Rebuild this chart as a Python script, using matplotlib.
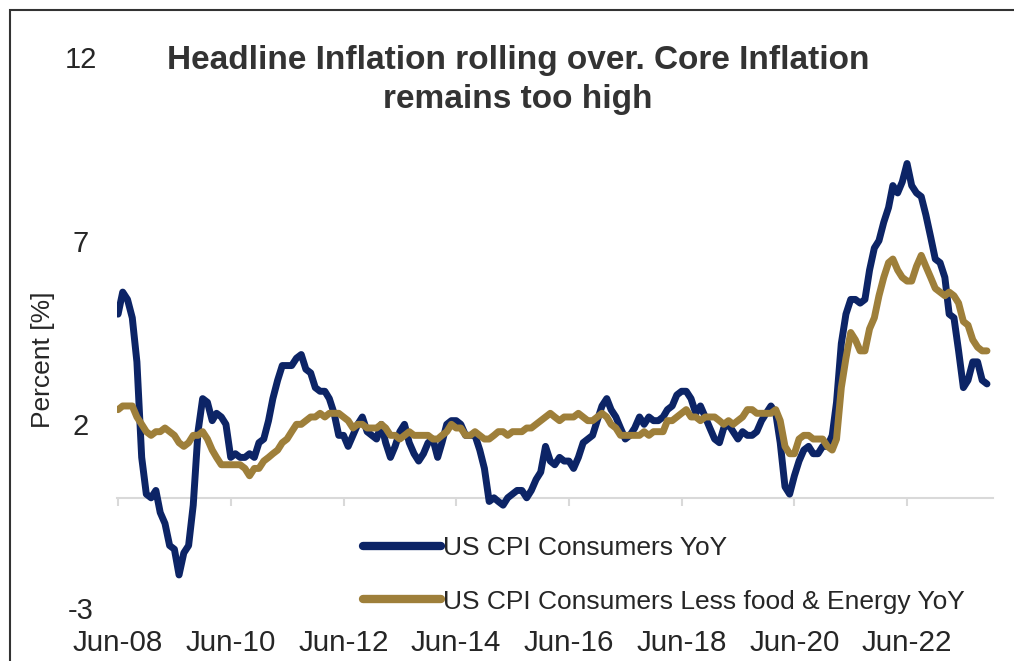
import matplotlib
matplotlib.use("Agg")
import matplotlib.pyplot as plt
from matplotlib.patches import Rectangle
import pandas as pd

plt.rcParams['font.family'] = ['Liberation Sans', 'DejaVu Sans']
plt.rcParams['axes.unicode_minus'] = False

start_month = "2008-06-01"

headline = [
    5.0, 5.6, 5.4, 4.9, 3.7, 1.1, 0.1,
    0.0, 0.2, -0.4, -0.7, -1.3, -1.4, -2.1, -1.5, -1.3, -0.2, 1.8, 2.7,
    2.6, 2.1, 2.3, 2.2, 2.0, 1.1, 1.2, 1.1, 1.1, 1.2, 1.1, 1.5,
    1.6, 2.1, 2.7, 3.2, 3.6, 3.6, 3.6, 3.8, 3.9, 3.5, 3.4, 3.0,
    2.9, 2.9, 2.7, 2.3, 1.7, 1.7, 1.4, 1.7, 2.0, 2.2, 1.8, 1.7,
    1.6, 2.0, 1.5, 1.1, 1.4, 1.8, 2.0, 1.5, 1.2, 1.0, 1.2, 1.5,
    1.6, 1.1, 1.5, 2.0, 2.1, 2.1, 2.0, 1.7, 1.7, 1.7, 1.3, 0.8,
    -0.1, 0.0, -0.1, -0.2, 0.0, 0.1, 0.2, 0.2, 0.0, 0.2, 0.5, 0.7,
    1.4, 1.0, 0.9, 1.1, 1.0, 1.0, 0.8, 1.1, 1.5, 1.6, 1.7, 2.1,
    2.5, 2.7, 2.4, 2.2, 1.9, 1.6, 1.7, 1.9, 2.2, 2.0, 2.2, 2.1,
    2.1, 2.2, 2.4, 2.5, 2.8, 2.9, 2.9, 2.7, 2.3, 2.5, 2.2, 1.9,
    1.6, 1.5, 1.9, 2.0, 1.8, 1.6, 1.8, 1.7, 1.7, 1.8, 2.1, 2.3,
    2.5, 2.3, 1.5, 0.3, 0.1, 0.6, 1.0, 1.3, 1.4, 1.2, 1.2, 1.4,
    1.4, 1.7, 2.6, 4.2, 5.0, 5.4, 5.4, 5.3, 5.4, 6.2, 6.8, 7.0,
    7.5, 7.9, 8.5, 8.3, 8.6, 9.1, 8.5, 8.3, 8.2, 7.7, 7.1, 6.5,
    6.4, 6.0, 5.0, 4.9, 4.0, 3.0, 3.2, 3.7, 3.7, 3.2, 3.1,
]

core = [
    2.4, 2.5, 2.5, 2.5, 2.2, 2.0, 1.8,
    1.7, 1.8, 1.8, 1.9, 1.8, 1.7, 1.5, 1.4, 1.5, 1.7, 1.7, 1.8,
    1.6, 1.3, 1.1, 0.9, 0.9, 0.9, 0.9, 0.9, 0.8, 0.6, 0.8, 0.8,
    1.0, 1.1, 1.2, 1.3, 1.5, 1.6, 1.8, 2.0, 2.0, 2.1, 2.2, 2.2,
    2.3, 2.2, 2.3, 2.3, 2.3, 2.2, 2.1, 1.9, 2.0, 2.0, 1.9, 1.9,
    1.9, 2.0, 1.9, 1.7, 1.7, 1.6, 1.7, 1.8, 1.7, 1.7, 1.7, 1.7,
    1.6, 1.6, 1.7, 1.8, 2.0, 1.9, 1.9, 1.7, 1.7, 1.8, 1.7, 1.6,
    1.6, 1.7, 1.8, 1.8, 1.7, 1.8, 1.8, 1.8, 1.9, 1.9, 2.0, 2.1,
    2.2, 2.3, 2.2, 2.1, 2.2, 2.2, 2.2, 2.3, 2.2, 2.1, 2.1, 2.2,
    2.3, 2.2, 2.0, 1.9, 1.7, 1.7, 1.7, 1.7, 1.7, 1.8, 1.7, 1.8,
    1.8, 1.8, 2.1, 2.1, 2.2, 2.3, 2.4, 2.2, 2.2, 2.1, 2.2, 2.2,
    2.2, 2.1, 2.0, 2.1, 2.0, 2.1, 2.2, 2.4, 2.4, 2.3, 2.3, 2.3,
    2.3, 2.4, 2.1, 1.4, 1.2, 1.2, 1.6, 1.7, 1.7, 1.6, 1.6, 1.6,
    1.4, 1.3, 1.6, 3.0, 3.8, 4.5, 4.3, 4.0, 4.0, 4.6, 4.9, 5.5,
    6.0, 6.4, 6.5, 6.2, 6.0, 5.9, 5.9, 6.3, 6.6, 6.3, 6.0, 5.7,
    5.6, 5.5, 5.6, 5.5, 5.3, 4.8, 4.7, 4.3, 4.1, 4.0, 4.0,
]

series_names = ["US CPI Consumers YoY", "US CPI Consumers Less food & Energy YoY"]
tick_years = [2008, 2010, 2012, 2014, 2016, 2018, 2020, 2022]
tick_labels = ["Jun-08", "Jun-10", "Jun-12", "Jun-14", "Jun-16", "Jun-18", "Jun-20", "Jun-22"]
y_ticks = [-3, 2, 7, 12]
title = "Headline Inflation rolling over. Core Inflation\nremains too high"

dates = pd.date_range(start_month, periods=len(headline), freq="MS")

W, H = 1014, 661
fig = plt.figure(figsize=(W / 100, H / 100), dpi=100)
ax = fig.add_axes([117 / W, 53 / H, (993 - 117) / W, (608 - 57) / H])

blue = "#0c2466"
gold = "#9e7f3a"
ax.plot(dates, headline, color=blue, lw=5.0, solid_capstyle="round", solid_joinstyle="round", label=series_names[0], zorder=3)
ax.plot(dates, core, color=gold, lw=5.0, solid_capstyle="round", solid_joinstyle="round", label=series_names[1], zorder=4)

ax.set_ylim(-3, 12)
ax.set_yticks(y_ticks)
ax.tick_params(axis="y", length=0, pad=26, labelsize=21, labelcolor="#262626")
for lab in ax.get_yticklabels():
    lab.set_horizontalalignment("center")
ax.set_xlim(pd.Timestamp("2008-05-25"), pd.Timestamp("2023-12-10"))

tick_dates = [pd.Timestamp(f"{y}-06-01") for y in tick_years]
ax.set_xticks(tick_dates)
ax.set_xticklabels([])
ax.tick_params(axis="x", direction="out", length=6, width=1.5, color="#d9d9d9")

for s in ["top", "right", "left"]:
    ax.spines[s].set_visible(False)
ax.spines["bottom"].set_position(("data", 0))
ax.spines["bottom"].set_color("#d9d9d9")
ax.spines["bottom"].set_linewidth(1.5)

sec = ax.secondary_xaxis(0)
sec.set_xticks(tick_dates)
sec.set_xticklabels(tick_labels)
sec.tick_params(length=0, pad=15, labelsize=21.3, labelcolor="#262626")
sec.spines["bottom"].set_visible(False)

fig.text(43 / W, 1 - 360 / H, "Percent [%]", rotation=90, ha="center", va="center",
         fontsize=19, color="#262626")

fig.text(518 / W, 1 - 80 / H, title, ha="center", va="center", fontsize=24,
         fontweight="bold", color="#333333", linespacing=1.3)

leg = ax.legend(loc="upper left", bbox_to_anchor=(363 / W, 1 - 536 / H),
                bbox_transform=fig.transFigure, frameon=False, fontsize=19,
                handlelength=2.95, handletextpad=0.08, labelspacing=1.12,
                borderpad=0, borderaxespad=0)
for t in leg.get_texts():
    t.set_color("#262626")
for l in leg.get_lines():
    l.set_linewidth(6)
    l.set_solid_capstyle("round")

fig.add_artist(Rectangle((10 / W, -0.05), 1.2, 1 - 10 / H + 0.05, transform=fig.transFigure,
                         fill=False, edgecolor="#333333", linewidth=1.5))

fig.savefig("out.png", dpi=100)
